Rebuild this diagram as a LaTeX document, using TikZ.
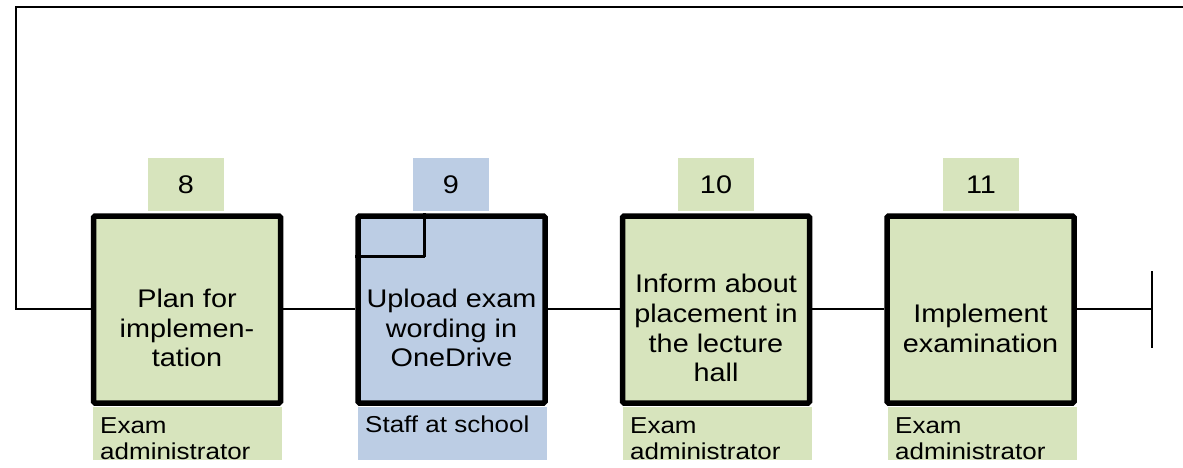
\documentclass[tikz,border=0pt]{standalone}
\usepackage{fontspec}
\setmainfont{Liberation Sans}[FakeStretch=1.13]
\definecolor{pgreen}{RGB}{215,228,189}
\definecolor{pblue}{RGB}{188,205,228}
\tikzset{
  procbox/.style={draw=black, line width=5.5pt, rounded corners=1.5pt, minimum width=187pt, minimum height=187pt, inner sep=0pt},
  tabbox/.style={minimum width=76pt, minimum height=53pt, inner sep=0pt, font=\fontsize{25.5}{29.5}\selectfont},
  lanebox/.style={minimum width=189pt, minimum height=53pt, inner sep=0pt, anchor=north west},
  boxtext/.style={align=center, inner sep=0pt, font=\fontsize{25.5}{29.8}\selectfont},
  lanetext/.style={align=left, inner sep=0pt, anchor=base west, font=\fontsize{23}{26.5}\selectfont},
  conn/.style={draw=black, line width=2.3pt},
}
\begin{document}
\begin{tikzpicture}[x=1pt,y=-1pt]
\useasboundingbox (0,0) rectangle (1183,468);
% tabs
\node[tabbox, fill=pgreen] (n8) at (186,184.5) {8};
\node[tabbox, fill=pblue] (n9) at (451,184.5) {9};
\node[tabbox, fill=pgreen] (n10) at (716,184.5) {10};
\node[tabbox, fill=pgreen] (n11) at (981,184.5) {11};
% lane labels
\node[lanebox, fill=pgreen] (l1) at (93,407) {};
\node[lanebox, fill=pblue] (l2) at (358,407) {};
\node[lanebox, fill=pgreen] (l3) at (623,407) {};
\node[lanebox, fill=pgreen] (l4) at (888,407) {};
\begin{scope}
\clip (0,0) rectangle (1183,461);
\node[lanetext] (lt1) at (100,459.5) {Exam\\administrator};
\node[lanetext] (lt2) at (365,432) {Staff at school};
\node[lanetext] (lt3) at (630,459.5) {Exam\\administrator};
\node[lanetext] (lt4) at (895,459.5) {Exam\\administrator};
\end{scope}
% boxes
\node[procbox, fill=pgreen] (b1) at (187,309.5) {};
\node[procbox, fill=pblue] (b2) at (451.5,309.5) {};
\node[procbox, fill=pgreen] (b3) at (716,309.5) {};
\node[procbox, fill=pgreen] (b4) at (980.5,309.5) {};
\coordinate (sq) at (424.5,256.5);
\draw[line width=2.5pt] (sq) -- (sq |- b2.north);
\draw[line width=2.5pt] (sq) -- (sq -| b2.west);
% texts
\node[boxtext] (t1) at (187,328) {Plan for\\implemen-\\tation};
\node[boxtext] (t2) at (451.5,328) {Upload exam\\wording in\\OneDrive};
\node[boxtext] (t3) at (716,328) {Inform about\\placement in\\the lecture\\hall};
\node[boxtext] (t4) at (980.5,328) {Implement\\examination};
% connectors
\coordinate (lp) at (16,309);
\coordinate (tr) at (1183,7);
\coordinate (endp) at (1152,309);
\coordinate (endt) at (1152,271);
\coordinate (endb) at (1152,348);
\draw[conn] (b1.west |- lp) -- (lp) |- (tr);
\draw[conn] (b1.east |- lp) -- (b2.west |- lp);
\draw[conn] (b2.east |- lp) -- (b3.west |- lp);
\draw[conn] (b3.east |- lp) -- (b4.west |- lp);
\draw[conn] (b4.east |- lp) -- (endp);
\draw[conn] (endt) -- (endb);
\end{tikzpicture}
\end{document}
